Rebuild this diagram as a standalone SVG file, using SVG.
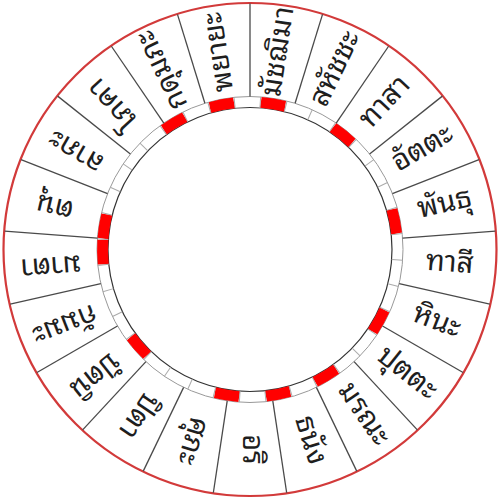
<svg xmlns="http://www.w3.org/2000/svg" xmlns:xlink="http://www.w3.org/1999/xlink" width="499" height="500" viewBox="0 0 499 500">
<style>
.lbl{font-family:"Noto Sans Thai Looped","Noto Serif Thai","Noto Sans Thai","Garuda","Loma","Tahoma","DejaVu Sans",sans-serif;font-size:29px;fill:#1e1e1e;text-anchor:middle}
.div{stroke:#4a4a4a;stroke-width:1.3}
.cdiv{stroke:#aaa;stroke-width:1}
</style>
<defs>
<path id="cell" d="M237.665,97.082 A153,153 0 0 1 262.335,97.082 L262.376,108.04 A142,142 0 0 0 237.624,108.04 Z" fill="#ff0000"/>
<line id="seg" x1="250" y1="3.5" x2="250" y2="96.5" class="div"/>
<line id="cd" x1="250" y1="96.5" x2="250" y2="107.5" class="cdiv"/>
</defs>
<rect width="499" height="500" fill="#fff"/>
<g id="ring">
<circle cx="250" cy="249.5" r="153" fill="none" stroke="#999" stroke-width="1"/>
<circle cx="250" cy="249.5" r="142" fill="none" stroke="#333" stroke-width="1.2"/>
<g id="band-red">
<use xlink:href="#cell" transform="rotate(-11 250 249.5)"/>
<use xlink:href="#cell" transform="rotate(9 250 249.5)"/>
<use xlink:href="#cell" transform="rotate(39 250 249.5)"/>
<use xlink:href="#cell" transform="rotate(79 250 249.5)"/>
<use xlink:href="#cell" transform="rotate(119 250 249.5)"/>
<use xlink:href="#cell" transform="rotate(149 250 249.5)"/>
<use xlink:href="#cell" transform="rotate(169 250 249.5)"/>
<use xlink:href="#cell" transform="rotate(189 250 249.5)"/>
<use xlink:href="#cell" transform="rotate(229 250 249.5)"/>
<use xlink:href="#cell" transform="rotate(269 250 249.5)"/>
<use xlink:href="#cell" transform="rotate(279 250 249.5)"/>
<use xlink:href="#cell" transform="rotate(329 250 249.5)"/>
</g>
<g id="band-lines">
<use xlink:href="#cd" transform="rotate(4 250 249.5)"/>
<use xlink:href="#cd" transform="rotate(14 250 249.5)"/>
<use xlink:href="#cd" transform="rotate(24 250 249.5)"/>
<use xlink:href="#cd" transform="rotate(34 250 249.5)"/>
<use xlink:href="#cd" transform="rotate(44 250 249.5)"/>
<use xlink:href="#cd" transform="rotate(54 250 249.5)"/>
<use xlink:href="#cd" transform="rotate(64 250 249.5)"/>
<use xlink:href="#cd" transform="rotate(74 250 249.5)"/>
<use xlink:href="#cd" transform="rotate(84 250 249.5)"/>
<use xlink:href="#cd" transform="rotate(94 250 249.5)"/>
<use xlink:href="#cd" transform="rotate(104 250 249.5)"/>
<use xlink:href="#cd" transform="rotate(114 250 249.5)"/>
<use xlink:href="#cd" transform="rotate(124 250 249.5)"/>
<use xlink:href="#cd" transform="rotate(134 250 249.5)"/>
<use xlink:href="#cd" transform="rotate(144 250 249.5)"/>
<use xlink:href="#cd" transform="rotate(154 250 249.5)"/>
<use xlink:href="#cd" transform="rotate(164 250 249.5)"/>
<use xlink:href="#cd" transform="rotate(174 250 249.5)"/>
<use xlink:href="#cd" transform="rotate(184 250 249.5)"/>
<use xlink:href="#cd" transform="rotate(194 250 249.5)"/>
<use xlink:href="#cd" transform="rotate(204 250 249.5)"/>
<use xlink:href="#cd" transform="rotate(214 250 249.5)"/>
<use xlink:href="#cd" transform="rotate(224 250 249.5)"/>
<use xlink:href="#cd" transform="rotate(234 250 249.5)"/>
<use xlink:href="#cd" transform="rotate(244 250 249.5)"/>
<use xlink:href="#cd" transform="rotate(254 250 249.5)"/>
<use xlink:href="#cd" transform="rotate(264 250 249.5)"/>
<use xlink:href="#cd" transform="rotate(274 250 249.5)"/>
<use xlink:href="#cd" transform="rotate(284 250 249.5)"/>
<use xlink:href="#cd" transform="rotate(294 250 249.5)"/>
<use xlink:href="#cd" transform="rotate(304 250 249.5)"/>
<use xlink:href="#cd" transform="rotate(314 250 249.5)"/>
<use xlink:href="#cd" transform="rotate(324 250 249.5)"/>
<use xlink:href="#cd" transform="rotate(334 250 249.5)"/>
<use xlink:href="#cd" transform="rotate(344 250 249.5)"/>
<use xlink:href="#cd" transform="rotate(354 250 249.5)"/>
</g>
<circle cx="250" cy="249.5" r="246.5" fill="none" stroke="#d23a3a" stroke-width="2.2"/>
</g>
<g id="connectors">
<use xlink:href="#seg"/>
<use xlink:href="#seg" transform="rotate(17.142857 250 249.5)"/>
<use xlink:href="#seg" transform="rotate(34.285714 250 249.5)"/>
<use xlink:href="#seg" transform="rotate(51.428571 250 249.5)"/>
<use xlink:href="#seg" transform="rotate(68.571429 250 249.5)"/>
<use xlink:href="#seg" transform="rotate(85.714286 250 249.5)"/>
<use xlink:href="#seg" transform="rotate(102.857143 250 249.5)"/>
<use xlink:href="#seg" transform="rotate(120 250 249.5)"/>
<use xlink:href="#seg" transform="rotate(137.142857 250 249.5)"/>
<use xlink:href="#seg" transform="rotate(154.285714 250 249.5)"/>
<use xlink:href="#seg" transform="rotate(171.428571 250 249.5)"/>
<use xlink:href="#seg" transform="rotate(188.571429 250 249.5)"/>
<use xlink:href="#seg" transform="rotate(205.714286 250 249.5)"/>
<use xlink:href="#seg" transform="rotate(222.857143 250 249.5)"/>
<use xlink:href="#seg" transform="rotate(240 250 249.5)"/>
<use xlink:href="#seg" transform="rotate(257.142857 250 249.5)"/>
<use xlink:href="#seg" transform="rotate(274.285714 250 249.5)"/>
<use xlink:href="#seg" transform="rotate(291.428571 250 249.5)"/>
<use xlink:href="#seg" transform="rotate(308.571429 250 249.5)"/>
<use xlink:href="#seg" transform="rotate(325.714286 250 249.5)"/>
<use xlink:href="#seg" transform="rotate(342.857143 250 249.5)"/>
</g>
<g id="n0"><text class="lbl" dy="7" transform="rotate(8.571429 250 249.5) translate(250 49.5) rotate(-90)">มัชฌิมา</text></g>
<g id="n1"><text class="lbl" dy="7" transform="rotate(25.714286 250 249.5) translate(250 49.5) rotate(-90)">สหัชชะ</text></g>
<g id="n2"><text class="lbl" dy="7" transform="rotate(42.857143 250 249.5) translate(250 49.5) rotate(-90)">ทาสา</text></g>
<g id="n3"><text class="lbl" dy="7" transform="rotate(60 250 249.5) translate(250 49.5) rotate(-90)">อัตตะ</text></g>
<g id="n4"><text class="lbl" dy="7" transform="rotate(77.142857 250 249.5) translate(250 49.5) rotate(-90)">พันธุ</text></g>
<g id="n5"><text class="lbl" dy="7" transform="rotate(94.285714 250 249.5) translate(250 49.5) rotate(-90)">ทาสี</text></g>
<g id="n6"><text class="lbl" dy="7" transform="rotate(111.428571 250 249.5) translate(250 49.5) rotate(-90)">หินะ</text></g>
<g id="n7"><text class="lbl" dy="7" transform="rotate(128.571429 250 249.5) translate(250 49.5) rotate(-90)">ปุตตะ</text></g>
<g id="n8"><text class="lbl" dy="7" transform="rotate(145.714286 250 249.5) translate(250 49.5) rotate(-90)">มรณะ</text></g>
<g id="n9"><text class="lbl" dy="7" transform="rotate(162.857143 250 249.5) translate(250 49.5) rotate(-90)">ธนัง</text></g>
<g id="n10"><text class="lbl" dy="7" transform="rotate(180 250 249.5) translate(250 49.5) rotate(-90)">อริ</text></g>
<g id="n11"><text class="lbl" dy="7" transform="rotate(197.142857 250 249.5) translate(250 49.5) rotate(-90)">ศุภะ</text></g>
<g id="n12"><text class="lbl" dy="7" transform="rotate(214.285714 250 249.5) translate(250 49.5) rotate(-90)">ปิตา</text></g>
<g id="n13"><text class="lbl" dy="7" transform="rotate(231.428571 250 249.5) translate(250 49.5) rotate(-90)">ปัตนิ</text></g>
<g id="n14"><text class="lbl" dy="7" transform="rotate(248.571429 250 249.5) translate(250 49.5) rotate(-90)">กัมมะ</text></g>
<g id="n15"><text class="lbl" dy="7" transform="rotate(265.714286 250 249.5) translate(250 49.5) rotate(-90)">มาตา</text></g>
<g id="n16"><text class="lbl" dy="7" transform="rotate(282.857143 250 249.5) translate(250 49.5) rotate(-90)">ตนุ</text></g>
<g id="n17"><text class="lbl" dy="7" transform="rotate(300 250 249.5) translate(250 49.5) rotate(-90)">ลาภะ</text></g>
<g id="n18"><text class="lbl" dy="7" transform="rotate(317.142857 250 249.5) translate(250 49.5) rotate(-90)">โภคา</text></g>
<g id="n19"><text class="lbl" dy="7" transform="rotate(334.285714 250 249.5) translate(250 49.5) rotate(-90)">กดุมภะ</text></g>
<g id="n20"><text class="lbl" dy="7" transform="rotate(351.428571 250 249.5) translate(250 49.5) rotate(-90)">พยายะ</text></g>
</svg>
